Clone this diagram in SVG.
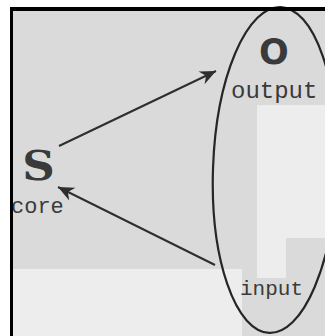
<svg xmlns="http://www.w3.org/2000/svg" width="325" height="336" viewBox="0 0 325 336">
<style>
.bg{fill:#dadada}
.patch{fill:#ededed}
.edge{stroke:#2e2e2e;stroke-width:2;fill:none}
.big{font-family:"DejaVu Serif","Liberation Serif",serif;font-weight:bold;fill:#3a3a3a}
.bigo{font-family:"DejaVu Sans","Liberation Sans",sans-serif;font-weight:bold;fill:#3a3a3a}
.mono{font-family:"Liberation Mono","DejaVu Sans Mono",monospace;fill:#3a3a3a}
.bound{fill:none;stroke:#262626;stroke-width:2.2}
</style>
<defs>
<marker id="ah" markerUnits="userSpaceOnUse" markerWidth="20" markerHeight="16" viewBox="-16 -8 18 16" refX="0" refY="0" orient="auto">
<path d="M0,0 L-16,-7 L-11,0 L-16,7 Z" fill="#2e2e2e"/>
</marker>
</defs>
<rect x="0" y="0" width="325" height="336" fill="#ffffff"/>
<rect class="bg" x="13" y="11" width="312" height="325"/>
<rect class="patch" x="13" y="269" width="229" height="67"/>
<path class="patch" d="M257,105 H325 V238 H286 V278 H257 Z"/>
<g id="system">
<ellipse class="bound" cx="275" cy="170" rx="62" ry="163" transform="rotate(2 275 170)"/>
</g>
<g id="connectors">
<line class="edge" x1="59" y1="146" x2="216" y2="71" marker-end="url(#ah)"/>
<line class="edge" x1="215" y1="265" x2="58" y2="187" marker-end="url(#ah)"/>
</g>
<g id="node-s">
<text class="big" x="38.5" y="180" font-size="41" text-anchor="middle" transform="translate(38.5 0) scale(1.1 1) translate(-38.5 0)">S</text>
<text class="mono" x="11" y="213" font-size="22">core</text>
</g>
<g id="node-o">
<text class="bigo" x="274" y="64" font-size="35" text-anchor="middle">O</text>
<text class="mono" x="231" y="98" font-size="24">output</text>
</g>
<g id="node-input">
<text class="mono" x="240" y="295" font-size="21">input</text>
</g>
<rect x="10" y="7" width="315" height="4" fill="#000"/>
<rect x="10" y="7" width="3" height="329" fill="#000"/>
</svg>
